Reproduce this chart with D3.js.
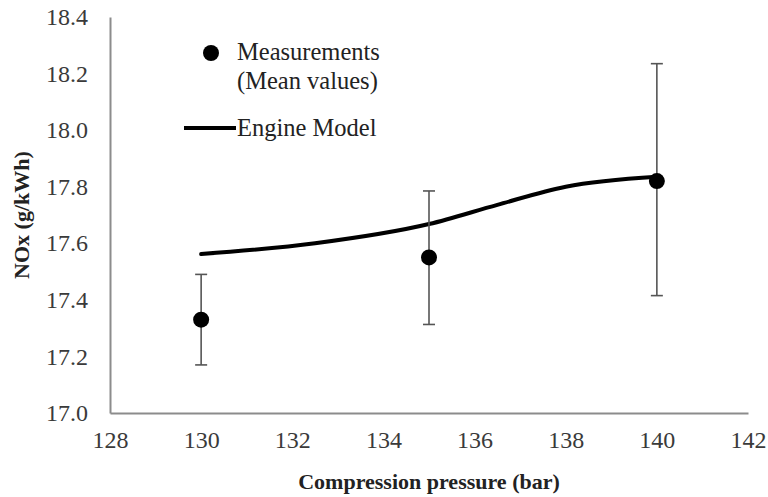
<!DOCTYPE html>
<html>
<head>
<meta charset="utf-8">
<script src="https://cdn.jsdelivr.net/npm/d3@7"></script>
<style>
  html, body { margin: 0; padding: 0; background: #fff; }
  svg { display: block; }
</style>
</head>
<body>
<svg id="chart" width="768" height="497"></svg>
<script>
// Measurements (mean values) with error bars
const measPressure = [130, 135, 140];
const measMean     = [17.33, 17.55, 17.82];
const measLow      = [17.17, 17.313, 17.415];
const measHigh     = [17.49, 17.785, 18.235];

// Engine model curve
const modelPressure = [130, 132.5, 135, 136.5, 138, 140];
const modelNOx      = [17.562, 17.600, 17.668, 17.736, 17.800, 17.835];

// Axis ticks
const xTicks = [128, 130, 132, 134, 136, 138, 140, 142];
const yTicks = [17.0, 17.2, 17.4, 17.6, 17.8, 18.0, 18.2, 18.4];

const svg = d3.select("#chart");
const mLeft = 110, mRight = 748, mTop = 17, mBottom = 413;
const SERIF = "'Liberation Serif', 'Times New Roman', serif";

const x = d3.scaleLinear().domain([128, 142]).range([mLeft, mRight]);
const y = d3.scaleLinear().domain([17.0, 18.4]).range([mBottom, mTop]);

// Axes
const xAxis = svg.append("g").attr("transform", `translate(0,${mBottom})`)
  .call(d3.axisBottom(x).tickValues(xTicks).tickSize(0).tickPadding(18).tickFormat(d3.format("d")));
const yAxis = svg.append("g").attr("transform", `translate(${mLeft},0)`)
  .call(d3.axisLeft(y).tickValues(yTicks).tickSize(0).tickPadding(22).tickFormat(d3.format(".1f")));

[xAxis, yAxis].forEach(g => {
  g.attr("font-family", SERIF).attr("font-size", 24);
  g.select(".domain").attr("stroke", "#8c8c8c").attr("stroke-width", 2);
  g.selectAll("text").attr("fill", "#3a3a3a");
});
xAxis.selectAll("text").attr("dy", "0.71em");

// Axis titles
svg.append("text")
  .attr("x", (mLeft + mRight) / 2).attr("y", 489)
  .attr("text-anchor", "middle")
  .attr("font-family", SERIF)
  .attr("font-weight", "bold").attr("font-size", 22).attr("fill", "#222")
  .text("Compression pressure (bar)");

svg.append("text")
  .attr("transform", `translate(29,${(mTop + mBottom) / 2}) rotate(-90)`)
  .attr("text-anchor", "middle")
  .attr("font-family", SERIF)
  .attr("font-weight", "bold").attr("font-size", 22).attr("fill", "#222")
  .text("NOx (g/kWh)");

// Model line
const modelData = modelPressure.map((p, i) => ({ p, v: modelNOx[i] }));
svg.append("path")
  .datum(modelData)
  .attr("fill", "none")
  .attr("stroke", "#000")
  .attr("stroke-width", 4)
  .attr("stroke-linecap", "round")
  .attr("d", d3.line().x(d => x(d.p)).y(d => y(d.v)).curve(d3.curveMonotoneX));

// Error bars
const meas = measPressure.map((p, i) => ({ p, m: measMean[i], lo: measLow[i], hi: measHigh[i] }));
const eb = svg.append("g").attr("stroke", "#555").attr("stroke-width", 1.6);
eb.selectAll("line.v").data(meas).join("line").attr("class", "v")
  .attr("x1", d => x(d.p)).attr("x2", d => x(d.p))
  .attr("y1", d => y(d.lo)).attr("y2", d => y(d.hi));
eb.selectAll("line.t").data(meas).join("line").attr("class", "t")
  .attr("x1", d => x(d.p) - 6).attr("x2", d => x(d.p) + 6)
  .attr("y1", d => y(d.hi)).attr("y2", d => y(d.hi));
eb.selectAll("line.b").data(meas).join("line").attr("class", "b")
  .attr("x1", d => x(d.p) - 6).attr("x2", d => x(d.p) + 6)
  .attr("y1", d => y(d.lo)).attr("y2", d => y(d.lo));

// Points
svg.selectAll("circle.pt").data(meas).join("circle").attr("class", "pt")
  .attr("cx", d => x(d.p)).attr("cy", d => y(d.m))
  .attr("r", 8).attr("fill", "#000");

// Legend
const lg = svg.append("g").attr("font-family", SERIF);
lg.append("circle").attr("cx", 211).attr("cy", 53).attr("r", 8).attr("fill", "#000");
lg.append("text").attr("x", 237).attr("y", 60).attr("font-size", 24.5).attr("fill", "#222").text("Measurements");
lg.append("text").attr("x", 237).attr("y", 89).attr("font-size", 24.5).attr("fill", "#222").text("(Mean values)");
lg.append("line").attr("x1", 184).attr("x2", 236).attr("y1", 128).attr("y2", 128)
  .attr("stroke", "#000").attr("stroke-width", 4);
lg.append("text").attr("x", 237).attr("y", 136).attr("font-size", 24.5).attr("fill", "#222").text("Engine Model");
</script>
</body>
</html>
